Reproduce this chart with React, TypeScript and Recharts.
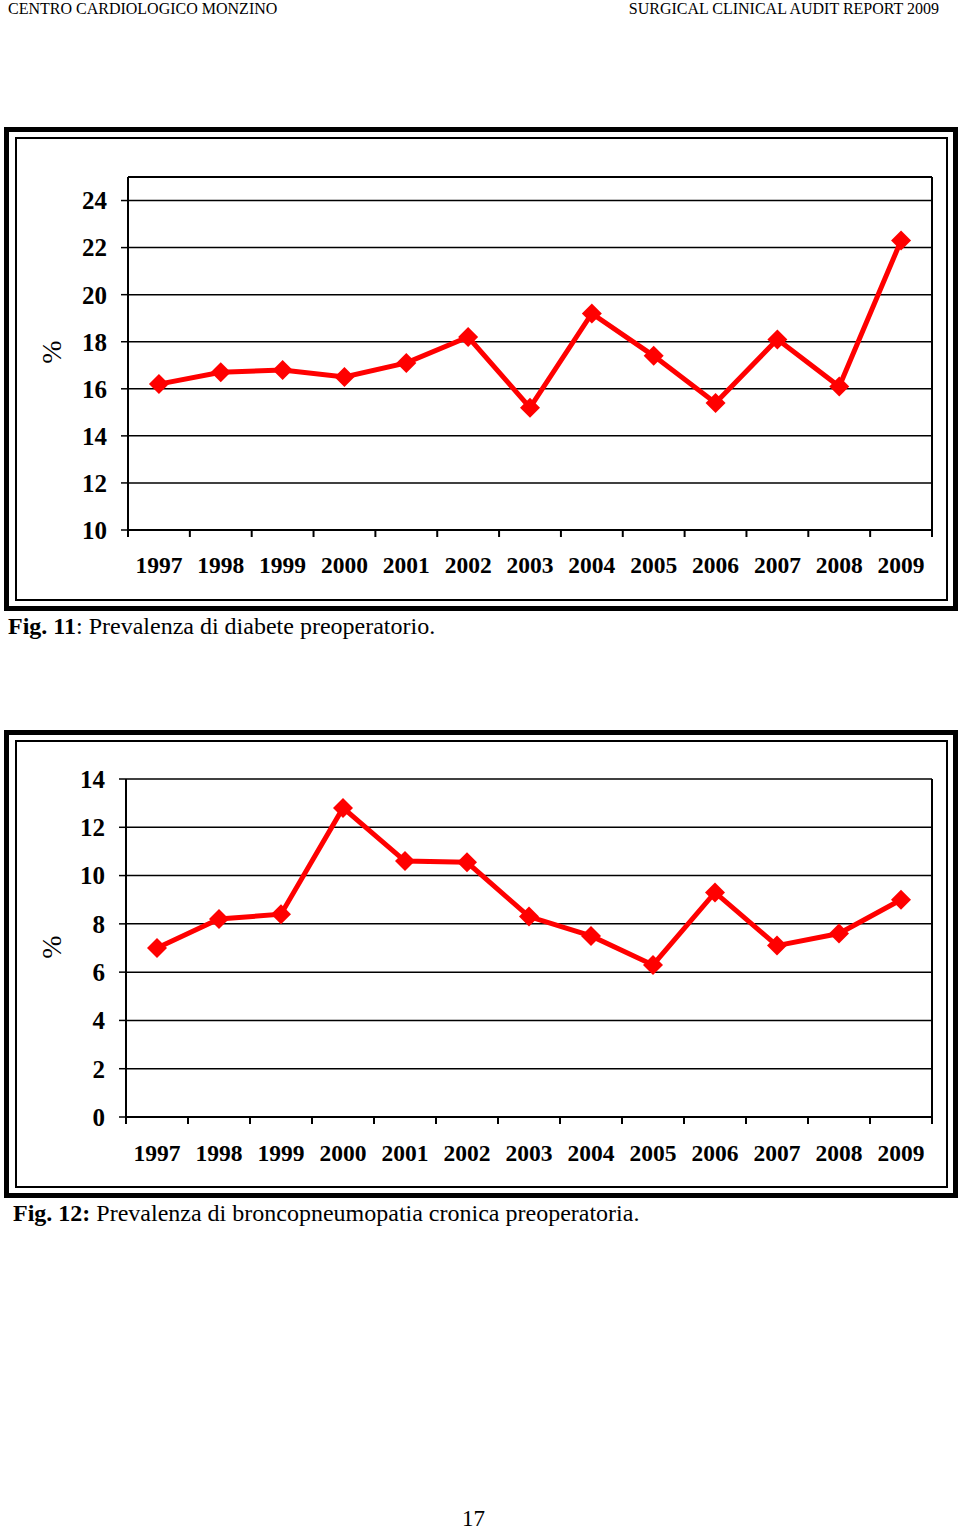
import { CartesianGrid, Line, LineChart, ReferenceLine, XAxis, YAxis } from 'recharts';

const years = ['1997', '1998', '1999', '2000', '2001', '2002', '2003', '2004', '2005', '2006', '2007', '2008', '2009'];
const diabete = [16.2, 16.7, 16.8, 16.5, 17.1, 18.2, 15.2, 19.2, 17.4, 15.4, 18.1, 16.1, 22.3];
const bpco = [7.0, 8.2, 8.4, 12.8, 10.6, 10.55, 8.3, 7.5, 6.3, 9.3, 7.1, 7.6, 9.0];
const diabeteTicks = [10, 12, 14, 16, 18, 20, 22, 24];
const bpcoTicks = [0, 2, 4, 6, 8, 10, 12, 14];

const serif = '"Liberation Serif", "Times New Roman", serif';
const RED = '#ff0000';
const CHART_W = 920;
const MARGIN_R = 8;

const Diamond = (props: any) => {
  const { cx, cy, index } = props;
  if (cx == null || cy == null) return <g key={index} />;
  const r = 10;
  return (
    <path
      key={index}
      d={`M${cx},${cy - r}L${cx + r},${cy}L${cx},${cy + r}L${cx - r},${cy}Z`}
      fill={RED}
    />
  );
};

// year label centred in its band, tick marks on the band edges (Excel style)
const makeYearTick = (half: number, labelGap: number) => (props: any) => {
  const { x, y, payload, index } = props;
  const h = payload && payload.offset ? payload.offset : half;
  const last = index === years.length - 1;
  return (
    <g key={index}>
      <line x1={x - h} y1={y} x2={x - h} y2={y + 7} stroke="#000" strokeWidth={2} />
      {last && <line x1={x + h} y1={y} x2={x + h} y2={y + 7} stroke="#000" strokeWidth={2} />}
      <text
        x={x}
        y={y + labelGap}
        textAnchor="middle"
        fill="#000"
        fontSize={23.5}
        fontWeight="bold"
        fontFamily={serif}
      >
        {payload.value}
      </text>
    </g>
  );
};

interface PanelProps {
  values: number[];
  ticks: number[];
  domain: [number, number];
  top: number;
  height: number;
  marginTop: number;
  yWidth: number;
  labelGap: number;
  showTopLine: boolean;
}

const Panel = (props: PanelProps) => {
  const { values, ticks, domain, top, height, marginTop, yWidth, labelGap, showTopLine } = props;
  const data = years.map((y, i) => ({ year: y, value: values[i] }));
  const half = (CHART_W - yWidth - MARGIN_R) / years.length / 2;
  return (
    <div style={{ position: 'absolute', left: 20, top }}>
      <LineChart
        width={CHART_W}
        height={height}
        data={data}
        margin={{ top: marginTop, right: MARGIN_R, left: 0, bottom: 0 }}
      >
        <CartesianGrid vertical={false} stroke="#000" strokeWidth={1.5} strokeOpacity={1} />
        <XAxis
          dataKey="year"
          scale="band"
          tickLine={false}
          tickSize={0}
          tickMargin={0}
          axisLine={{ stroke: '#000', strokeWidth: 2 }}
          height={60}
          interval={0}
          tick={makeYearTick(half, labelGap)}
        />
        <YAxis
          domain={domain}
          ticks={ticks}
          allowDataOverflow
          width={yWidth}
          tickSize={7}
          tickMargin={14}
          tickLine={{ stroke: '#000', strokeWidth: 1.5 }}
          axisLine={{ stroke: '#000', strokeWidth: 2 }}
          tick={{ fill: '#000', fontSize: 25, fontWeight: 'bold', fontFamily: serif }}
        />
        {showTopLine && <ReferenceLine y={domain[1]} stroke="#000" strokeWidth={2} />}
        <ReferenceLine x={years[years.length - 1]} position="end" stroke="#000" strokeWidth={2} />
        <Line
          dataKey="value"
          stroke={RED}
          strokeWidth={5}
          dot={Diamond}
          activeDot={false}
          isAnimationActive={false}
        />
      </LineChart>
    </div>
  );
};

const Frame = ({ top, bottom }: { top: number; bottom: number }) => (
  <>
    <div
      style={{
        position: 'absolute',
        left: 4,
        top,
        width: 954,
        height: bottom - top,
        boxSizing: 'border-box',
        border: '5px solid #000',
      }}
    />
    <div
      style={{
        position: 'absolute',
        left: 15,
        top: top + 10,
        width: 933,
        height: bottom - top - 20,
        boxSizing: 'border-box',
        border: '2px solid #000',
      }}
    />
  </>
);

const PctLabel = ({ top }: { top: number }) => (
  <div
    style={{
      position: 'absolute',
      left: 36,
      top: top - 16,
      width: 32,
      height: 32,
      fontSize: 28,
      fontFamily: serif,
      lineHeight: '32px',
      textAlign: 'center',
      transform: 'rotate(-90deg)',
    }}
  >
    %
  </div>
);

export default function App() {
  return (
    <div
      style={{
        position: 'absolute',
        left: 0,
        top: 0,
        width: 960,
        height: 1530,
        background: '#fff',
        fontFamily: serif,
        color: '#000',
        overflow: 'hidden',
      }}
    >
      <div style={{ position: 'absolute', left: 8, top: 0, fontSize: 16, lineHeight: '17px', whiteSpace: 'nowrap' }}>
        CENTRO CARDIOLOGICO MONZINO
      </div>
      <div style={{ position: 'absolute', right: 21, top: 0, fontSize: 16, lineHeight: '17px', whiteSpace: 'nowrap' }}>
        SURGICAL CLINICAL AUDIT REPORT 2009
      </div>

      <Frame top={127} bottom={611} />
      <PctLabel top={352} />
      <Panel
        values={diabete}
        ticks={diabeteTicks}
        domain={[10, 25]}
        top={150}
        height={440}
        marginTop={27}
        yWidth={108}
        labelGap={43}
        showTopLine
      />
      <div style={{ position: 'absolute', left: 8, top: 613, fontSize: 24, whiteSpace: 'nowrap' }}>
        <b>Fig. 11</b>: Prevalenza di diabete preoperatorio.
      </div>

      <Frame top={730} bottom={1198} />
      <PctLabel top={947} />
      <Panel
        values={bpco}
        ticks={bpcoTicks}
        domain={[0, 14]}
        top={750}
        height={427}
        marginTop={29}
        yWidth={106}
        labelGap={44}
        showTopLine={false}
      />
      <div style={{ position: 'absolute', left: 13, top: 1200, fontSize: 24, whiteSpace: 'nowrap' }}>
        <b>Fig. 12:</b> Prevalenza di broncopneumopatia cronica preoperatoria.
      </div>

      <div style={{ position: 'absolute', left: 462, top: 1509, fontSize: 23, lineHeight: '20px', whiteSpace: 'nowrap' }}>
        17
      </div>
    </div>
  );
}
